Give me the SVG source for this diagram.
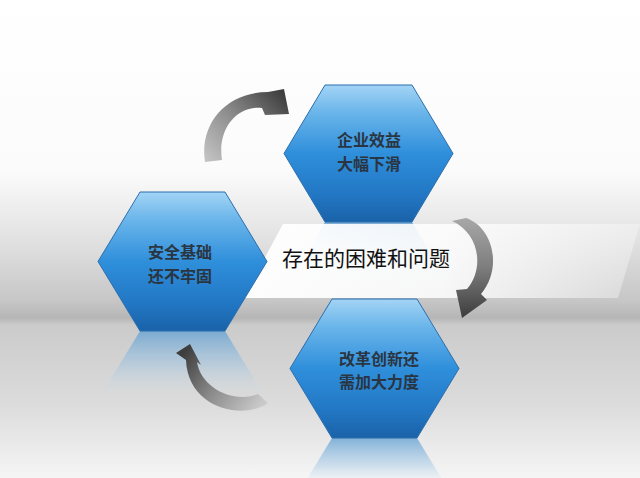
<svg xmlns="http://www.w3.org/2000/svg" width="640" height="478" viewBox="0 0 640 478">
  <defs>
    <linearGradient id="bg" x1="0" y1="0" x2="0" y2="478" gradientUnits="userSpaceOnUse">
      <stop offset="0" stop-color="#ffffff"/>
      <stop offset="0.36" stop-color="#fbfbfb"/>
      <stop offset="0.52" stop-color="#dedede"/>
      <stop offset="0.63" stop-color="#c6c6c6"/>
      <stop offset="0.665" stop-color="#b6b6b6"/>
      <stop offset="0.68" stop-color="#cbcbcb"/>
      <stop offset="0.84" stop-color="#dbdbdb"/>
      <stop offset="1" stop-color="#f5f5f5"/>
    </linearGradient>
    <linearGradient id="hexFill" x1="0" y1="0" x2="0" y2="1">
      <stop offset="0" stop-color="#a3d4f5"/>
      <stop offset="0.2" stop-color="#6ab5ea"/>
      <stop offset="0.5" stop-color="#2f8fdb"/>
      <stop offset="0.8" stop-color="#2277c4"/>
      <stop offset="1" stop-color="#1a62a8"/>
    </linearGradient>
    <linearGradient id="reflL" x1="0" y1="331" x2="0" y2="395" gradientUnits="userSpaceOnUse">
      <stop offset="0" stop-color="#5f9fd3" stop-opacity="0.75"/>
      <stop offset="0.5" stop-color="#8cbde3" stop-opacity="0.4"/>
      <stop offset="1" stop-color="#c8dff0" stop-opacity="0"/>
    </linearGradient>
    <linearGradient id="reflB" x1="0" y1="438" x2="0" y2="485" gradientUnits="userSpaceOnUse">
      <stop offset="0" stop-color="#5f9fd3" stop-opacity="0.75"/>
      <stop offset="0.6" stop-color="#8cbde3" stop-opacity="0.35"/>
      <stop offset="1" stop-color="#c8dff0" stop-opacity="0"/>
    </linearGradient>
    <linearGradient id="reflT" x1="0" y1="222" x2="0" y2="290" gradientUnits="userSpaceOnUse">
      <stop offset="0" stop-color="#5f9fd3" stop-opacity="0.8"/>
      <stop offset="1" stop-color="#c8dff0" stop-opacity="0"/>
    </linearGradient>
    <linearGradient id="banner" x1="243" y1="0" x2="640" y2="0" gradientUnits="userSpaceOnUse">
      <stop offset="0" stop-color="#ffffff" stop-opacity="0.97"/>
      <stop offset="0.5" stop-color="#ffffff" stop-opacity="0.85"/>
      <stop offset="1" stop-color="#ffffff" stop-opacity="0.3"/>
    </linearGradient>
    <linearGradient id="arr1" x1="210" y1="165" x2="285" y2="95" gradientUnits="userSpaceOnUse">
      <stop offset="0" stop-color="#c4c4c4"/>
      <stop offset="0.5" stop-color="#8a8a8a"/>
      <stop offset="1" stop-color="#3e3e3e"/>
    </linearGradient>
    <linearGradient id="arr2" x1="460" y1="218" x2="465" y2="318" gradientUnits="userSpaceOnUse">
      <stop offset="0" stop-color="#a8a8a8"/>
      <stop offset="0.5" stop-color="#7e7e7e"/>
      <stop offset="1" stop-color="#3c3c3c"/>
    </linearGradient>
    <linearGradient id="arr3" x1="265" y1="400" x2="190" y2="345" gradientUnits="userSpaceOnUse">
      <stop offset="0" stop-color="#cacaca"/>
      <stop offset="0.5" stop-color="#8c8c8c"/>
      <stop offset="1" stop-color="#3e3e3e"/>
    </linearGradient>
    <style>
      .hex { fill: url(#hexFill); stroke: #2b6fae; stroke-width: 1; }
      .lbl { font-family: "Noto Sans CJK SC", "Noto Sans", sans-serif; font-size: 16px; font-weight: bold; fill: #2a3542; text-anchor: middle; }
      .title { font-family: "Noto Sans CJK SC", "Noto Sans", sans-serif; font-size: 21px; fill: #111111; text-anchor: middle; }
    </style>
  </defs>

  <rect x="0" y="0" width="640" height="478" fill="url(#bg)"/>

  <!-- reflection of top hexagon (under banner) -->
  <polygon points="325,222 412,222 453,291 284,291" fill="url(#reflT)"/>

  <g id="center">
    <polygon points="283,224 640,224 618,298 243,298" fill="url(#banner)"/>
    <text class="title" x="366" y="266">存在的困难和问题</text>
  </g>

  <g id="node-top">
    <polygon class="hex" points="325,85 412,85 453,153.5 412,222 325,222 284,153.5"/>
    <text class="lbl"><tspan x="369" y="146">企业效益</tspan><tspan x="369" y="169.5">大幅下滑</tspan></text>
  </g>

  <g id="node-left">
    <polygon points="140,331 225,331 267,400 98,400" fill="url(#reflL)"/>
    <polygon class="hex" points="140,192 225,192 267,261.5 225,331 140,331 98,261.5"/>
    <text class="lbl"><tspan x="180" y="258">安全基础</tspan><tspan x="180" y="281.5">还不牢固</tspan></text>
  </g>

  <g id="node-bottom">
    <polygon points="332,438 417,438 459,507 290,507" fill="url(#reflB)"/>
    <polygon class="hex" points="332,299 417,299 459,368.5 417,438 332,438 290,368.5"/>
    <text class="lbl"><tspan x="379" y="364.5">改革创新还</tspan><tspan x="379" y="388">需加大力度</tspan></text>
  </g>

  <g id="connectors">
    <path d="M205,162 C199,124 226,92 268,92 L284,89 L289,114 L265,115 L262,108 C238,105 217,128 222,160 Z" fill="url(#arr1)"/>
    <path d="M452,221 L466,218 C493,227 503,268 481,294 L487,300 L462,318 L456,290 L467,289 C485,268 479,233 452,221 Z" fill="url(#arr2)"/>
    <path d="M258,394 L268,403 C245,420 188,410 186,360 L176,353 L190,344 L201,365 L197,362 C201,388 234,404 258,394 Z" fill="url(#arr3)"/>
  </g>
</svg>
